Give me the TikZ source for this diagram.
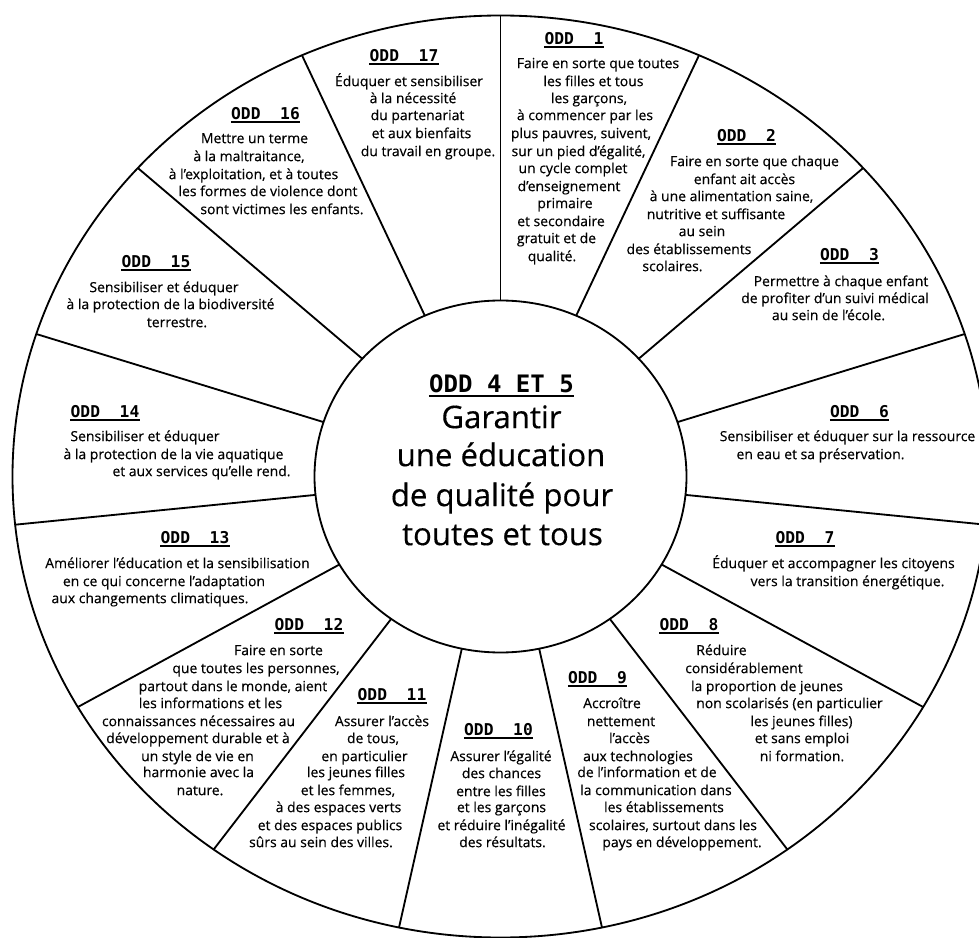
\documentclass[tikz,border=0pt]{standalone}
\usepackage{fontspec}
\setmainfont{Open Sans}[FakeBold=0.4]
\newfontfamily\titlefont{DejaVu Sans Mono}
\tikzset{
  body/.style={inner sep=0pt, anchor=mid, font=\fontsize{11.9pt}{14.9pt}\selectfont, text=black},
  oddtitle/.style={inner sep=0pt, anchor=mid, font=\titlefont\bfseries\fontsize{13.9pt}{16pt}\selectfont, text=black},
  hubtitle/.style={inner sep=0pt, anchor=mid, font=\titlefont\bfseries\fontsize{20.5pt}{24pt}\selectfont, text=black},
  hubtext/.style={inner sep=0pt, anchor=mid, font=\fontsize{26.6pt}{33pt}\selectfont, text=black},
  wheel/.style={line width=0.55mm, black},
  ul/.style={line width=0.45mm, black}
}
\begin{document}
\begin{tikzpicture}[x=0.3mm,y=-0.3mm]
\useasboundingbox (0,0) rectangle (979,938);
\fill[white] (0,0) rectangle (979,938);
\begin{scope}
\clip (0,0) rectangle (979,938);
\coordinate (c) at (500.5,476.5);
\draw[wheel] (c) ellipse [x radius=146.4mm, y radius=138.3mm];
\draw[wheel] (c) ellipse [x radius=55.8mm, y radius=52.8mm];
\foreach \k in {0,...,14}{
  \pgfmathsetmacro{\t}{90-24*\k}
  \coordinate (in\k) at ({500.5+186*cos(\t)},{476.5-176*sin(\t)});
  \coordinate (out\k) at ({500.5+488*cos(\t)},{476.5-461*sin(\t)});
  \draw[wheel] (in\k) -- (out\k);
}
\end{scope}
% titles
\foreach \x/\y/\t [count=\n] in {
 574/41/1, 746.5/138/2, 849.5/257/3, 859.5/414/6, 805/540/7, 689/627/8,
 597.5/680/9, 498.5/732/10, 392/697/11, 309/627/12, 195/540/13, 105/414/14,
 156/264/15, 265.5/116/16, 404/58/17}
 {\node[oddtitle] (t\n) at (\x,\y) {ODD~~\t};
  \draw[ul] ([yshift=-0.75mm]t\n.south west) -- ([yshift=-0.75mm]t\n.south east);}
\node[hubtitle] (hubt) at (501.5,389) {ODD~4~ET~5};
\draw[ul] ([yshift=-1mm]hubt.south west) -- ([yshift=-1mm]hubt.south east);
\node[hubtext] (h1) at (501.5,425) {Garantir};
\node[hubtext] (h2) at (501,463) {une éducation};
\node[hubtext] (h3) at (502,503) {de qualité pour};
\node[hubtext] (h4) at (502.5,542) {toutes et tous};
% body lines
\foreach \x/\y/\t [count=\n] in {
 598/65/{Faire en sorte que toutes},
 593.5/83/{les filles et tous},
 589/100/{les garçons,},
 585/117/{à commencer par les},
 581/135/{plus pauvres, suivent,},
 578.5/153/{sur un pied d'égalité,},
 573/170/{un cycle complet},
 569/188/{d'enseignement},
 565/205/{primaire},
 561/223/{et secondaire},
 556.5/240/{gratuit et de},
 552/258/{qualité.},
 754.5/163/{Faire en sorte que chaque},
 744.5/181/{enfant ait accès},
 731.5/198/{à une alimentation saine,},
 716/216/{nutritive et suffisante},
 702/233/{au sein},
 689/251/{des établissements},
 672.5/268/{scolaires.},
 841/283/{Permettre à chaque enfant},
 835/300/{de profiter d'un suivi médical},
 828.5/317/{au sein de l'école.},
 847.5/438/{Sensibiliser et éduquer sur la ressource},
 820.5/456/{en eau et sa préservation.},
 833.5/565/{Éduquer et accompagner les citoyens},
 847.5/583/{vers la transition énergétique.},
 721.5/652/{Réduire},
 744/670/{considérablement},
 767/688/{la proportion de jeunes},
 789.5/705/{non scolarisés (en particulier},
 801.5/723/{les jeunes filles)},
 802/740/{et sans emploi},
 802/758/{ni formation.},
 612/705/{Accroître},
 621/723/{nettement},
 629.5/740/{l'accès},
 638/758/{aux technologies},
 647/774/{de l'information et de},
 656/792/{la communication dans},
 664/809/{les établissements},
 673/827/{scolaires, surtout dans les},
 682/844/{pays en développement.},
 501/758/{Assurer l'égalité},
 501.5/775/{des chances},
 501/793/{entre les filles},
 501.5/809/{et les garçons},
 501.5/827/{et réduire l'inégalité},
 502.5/844/{des résultats.},
 382/723/{Assurer l'accès},
 373/740/{de tous,},
 364.5/758/{en particulier},
 356/774/{les jeunes filles},
 348/792/{et les femmes,},
 338.5/809/{à des espaces verts},
 330/827/{et des espaces publics},
 321/844/{sûrs au sein des villes.},
 278.5/652/{Faire en sorte},
 256/670/{que toutes les personnes,},
 233/688/{partout dans le monde, aient},
 210.5/705/{les informations et les},
 198.5/723/{connaissances nécessaires au},
 198/740/{développement durable et à},
 197.5/758/{un style de vie en},
 198.5/774/{harmonie avec la},
 200/792/{nature.},
 177.5/565/{Améliorer l'éducation et la sensibilisation},
 164/583/{en ce qui concerne l'adaptation},
 150/600/{aux changements climatiques.},
 145/438/{Sensibiliser et éduquer},
 173.5/456/{à la protection de la vie aquatique},
 201.5/473/{et aux services qu'elle rend.},
 164/289/{Sensibiliser et éduquer},
 170.5/306/{à la protection de la biodiversité},
 177/324/{terrestre.},
 254.5/140/{Mettre un terme},
 249/158/{à la maltraitance,},
 253.5/176/{à l'exploitation, et à toutes},
 268/193/{les formes de violence dont},
 282/211/{sont victimes les enfants.},
 409/83/{Éduquer et sensibiliser},
 413/100/{à la nécessité},
 417.5/117/{du partenariat},
 421.5/135/{et aux bienfaits},
 428/153/{du travail en groupe.}}
 \node[body] (b\n) at (\x,\y) {\t};
\end{tikzpicture}
\end{document}
